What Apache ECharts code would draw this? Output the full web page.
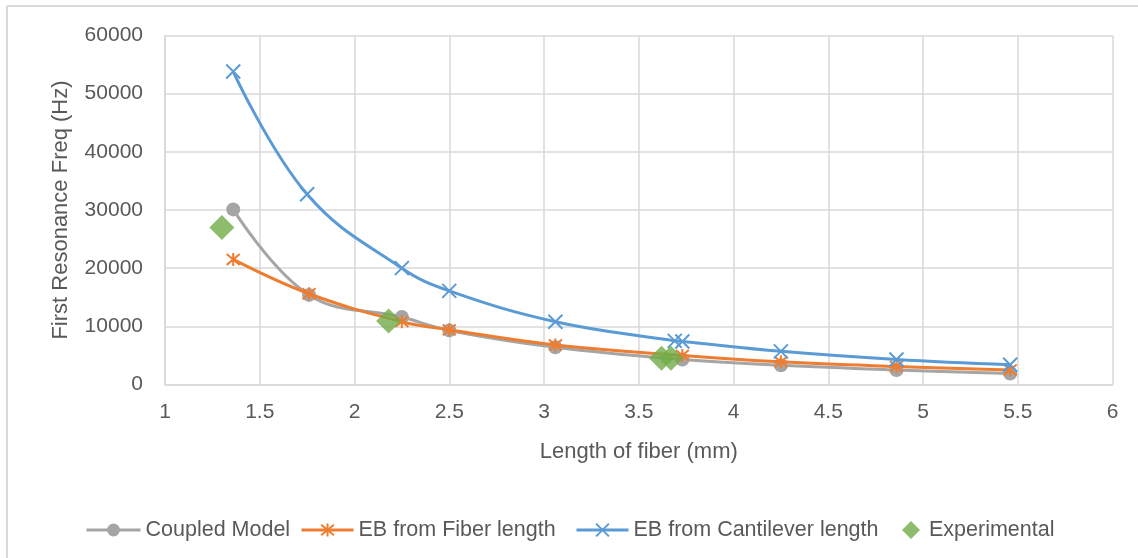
<!DOCTYPE html>
<html>
<head>
<meta charset="utf-8">
<script src="https://cdn.jsdelivr.net/npm/echarts@6/dist/echarts.min.js"></script>
<style>
html,body{margin:0;padding:0;background:#fff;}
#c{width:1138px;height:558px;}
</style>
</head>
<body>
<div id="c"></div>
<script>
// ---- data ----
const xTicks = [1, 1.5, 2, 2.5, 3, 3.5, 4, 4.5, 5, 5.5, 6];
const yTicks = [0, 10000, 20000, 30000, 40000, 50000, 60000];
const modelLengths = [1.36, 1.76, 2.25, 2.5, 3.06, 3.73, 4.25, 4.86, 5.46];
const coupledModel = [30100, 15400, 11600, 9300, 6400, 4300, 3300, 2500, 1900];
const ebFiber = [21500, 15600, 10800, 9400, 6800, 5000, 3900, 3100, 2500];
const cantLengths = [1.36, 1.75, 2.25, 2.5, 3.06, 3.69, 3.73, 4.25, 4.86, 5.46];
const ebCantilever = [53800, 32700, 20000, 16100, 10800, 7500, 7400, 5700, 4300, 3400];
const expLengths = [1.30, 2.18, 3.62, 3.67];
const experimental = [27000, 10900, 4500, 4500];
const seriesNames = ['Coupled Model', 'EB from Fiber length', 'EB from Cantilever length', 'Experimental'];

const zip = (xs, ys) => xs.map((x, i) => [x, ys[i]]);
const FONT = 'Liberation Sans, Arial, sans-serif';
const TXT = '#595959';
const GRID = '#d9d9d9';

const chart = echarts.init(document.getElementById('c'));
const legendBase = {
  top: 514, itemHeight: 16, itemGap: 10,
  lineStyle: {width: 3},
  textStyle: {color: TXT, fontFamily: FONT, fontSize: 21.5}
};
chart.setOption({
  animation: false,
  backgroundColor: '#fff',
  graphic: [
    {type: 'line', shape: {x1: 7, y1: 6, x2: 1138, y2: 6}, style: {stroke: GRID, lineWidth: 2}},
    {type: 'line', shape: {x1: 7, y1: 6, x2: 7, y2: 558}, style: {stroke: GRID, lineWidth: 2}}
  ],
  grid: {left: 165, right: 25.5, top: 35.5, bottom: 173.5, containLabel: false},
  legend: [
    Object.assign({}, legendBase, {left: 80, itemWidth: 54, data: [seriesNames[0]]}),
    Object.assign({}, legendBase, {left: 295, itemWidth: 52, data: [seriesNames[1]]}),
    Object.assign({}, legendBase, {left: 570, itemWidth: 52, data: [seriesNames[2]]}),
    Object.assign({}, legendBase, {left: 897, itemWidth: 18, itemHeight: 18,
      textStyle: Object.assign({}, legendBase.textStyle, {padding: [0, 0, 0, 4]}),
      data: [{name: seriesNames[3], icon: 'diamond'}]})
  ],
  xAxis: {
    type: 'value', min: xTicks[0], max: xTicks[xTicks.length - 1], interval: 0.5,
    name: 'Length of fiber (mm)', nameLocation: 'middle', nameGap: 56,
    nameTextStyle: {color: TXT, fontFamily: FONT, fontSize: 22},
    axisLine: {show: true, lineStyle: {color: GRID, width: 1.5}},
    axisTick: {show: false},
    splitLine: {show: true, lineStyle: {color: GRID, width: 1.5}},
    axisLabel: {color: TXT, fontFamily: FONT, fontSize: 21, margin: 17}
  },
  yAxis: {
    type: 'value', min: yTicks[0], max: yTicks[yTicks.length - 1], interval: 10000,
    name: 'First Resonance Freq (Hz)', nameLocation: 'middle', nameGap: 93,
    nameTextStyle: {color: TXT, fontFamily: FONT, fontSize: 22},
    axisLine: {show: true, lineStyle: {color: GRID, width: 1.5}},
    axisTick: {show: false},
    splitLine: {show: true, lineStyle: {color: GRID, width: 1.5}},
    axisLabel: {color: TXT, fontFamily: FONT, fontSize: 21, margin: 22,
      formatter: v => String(v)}
  },
  series: [
    {
      name: seriesNames[0], type: 'line', smooth: 0.4, data: zip(modelLengths, coupledModel),
      symbol: 'circle', symbolSize: 14, z: 2,
      lineStyle: {color: '#A5A5A5', width: 3},
      itemStyle: {color: '#A5A5A5', borderWidth: 0}
    },
    {
      name: seriesNames[1], type: 'line', smooth: 0.4, data: zip(modelLengths, ebFiber),
      symbol: 'path://M0,0 L10,10 M10,0 L0,10 M5,-1 L5,11', symbolSize: 13, z: 3,
      lineStyle: {color: '#ED7D31', width: 3},
      itemStyle: {color: '#ED7D31', borderColor: '#ED7D31', borderWidth: 2}
    },
    {
      name: seriesNames[2], type: 'line', smooth: 0.4, data: zip(cantLengths, ebCantilever),
      symbol: 'path://M0,0 L10,10 M10,0 L0,10', symbolSize: 14, z: 4,
      lineStyle: {color: '#5B9BD5', width: 3},
      itemStyle: {color: '#5B9BD5', borderColor: '#5B9BD5', borderWidth: 2}
    },
    {
      name: seriesNames[3], type: 'scatter', data: zip(expLengths, experimental),
      symbol: 'diamond', symbolSize: 25, z: 5,
      itemStyle: {color: '#70AD47'}
    }
  ]
});
</script>
</body>
</html>
